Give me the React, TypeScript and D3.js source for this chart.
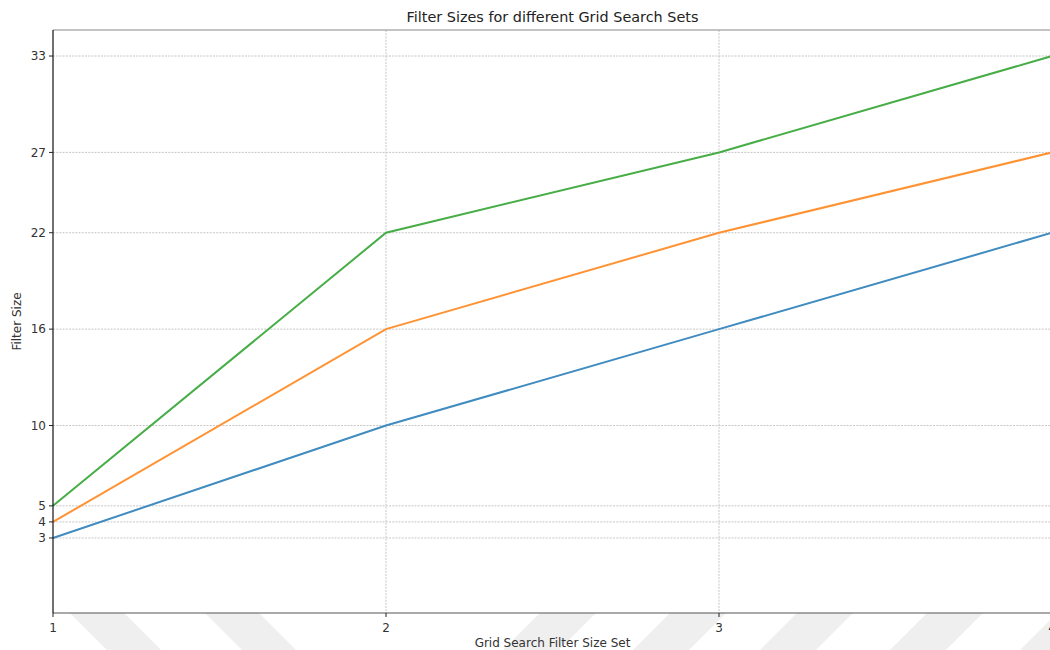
import React from "react";
import * as d3 from "d3";

const gridSets = [1, 2, 3, 4];
const smallFilters = [3, 10, 16, 22];
const mediumFilters = [4, 16, 22, 27];
const largeFilters = [5, 22, 27, 33];
const yTickValues = [3, 4, 5, 10, 16, 22, 27, 33];
const seriesColors = ["#408bbf", "#ff9233", "#47ad47"];

const W = 1050;
const H = 650;
const M = { left: 53, right: 1052, top: 30, bottom: 613 };

export default function App() {
  const x = d3.scaleLinear().domain([1, 4]).range([M.left, M.right]);
  const y = d3.scaleLinear().domain([-1.67, 34.62]).range([M.bottom, M.top]);
  const line = d3
    .line<number>()
    .x((_, i) => x(gridSets[i]))
    .y((d) => y(d));
  const series = [smallFilters, mediumFilters, largeFilters];
  const font = "'DejaVu Sans', sans-serif";

  // diagonal watermark bands below the axis
  const bandTop = M.bottom;
  const bandBottom = H;
  const dh = bandBottom - bandTop;
  const backBands = [70, 205];
  const fwdBands = [503, 633, 760, 890, 1020];

  return (
    <svg
      width={W}
      height={H}
      style={{ position: "absolute", left: 0, top: 0, background: "#fff" }}
      fontFamily={font}
    >
      <g fill="#efefef">
        {backBands.map((bx, i) => (
          <polygon
            key={"b" + i}
            points={`${bx},${bandTop} ${bx + 54},${bandTop} ${bx + 54 + dh},${bandBottom} ${bx + dh},${bandBottom}`}
          />
        ))}
        {fwdBands.map((bx, i) => (
          <polygon
            key={"f" + i}
            points={`${bx},${bandBottom} ${bx + 56},${bandBottom} ${bx + 56 + dh},${bandTop} ${bx + dh},${bandTop}`}
          />
        ))}
      </g>

      {/* grid */}
      <g stroke="#b8b8b8" strokeWidth={0.8} strokeDasharray="2,1.2">
        {yTickValues.map((v) => (
          <line key={"gy" + v} x1={M.left} x2={M.right} y1={y(v)} y2={y(v)} />
        ))}
        {gridSets.slice(1).map((v) => (
          <line key={"gx" + v} x1={x(v)} x2={x(v)} y1={M.top} y2={M.bottom} />
        ))}
      </g>

      {/* series lines */}
      {series.map((s, i) => (
        <path
          key={"s" + i}
          d={line(s) || ""}
          fill="none"
          stroke={seriesColors[i]}
          strokeWidth={2}
        />
      ))}

      {/* spines */}
      <line x1={M.left} x2={W} y1={M.top} y2={M.top} stroke="#888" strokeWidth={1.2} />
      <line x1={M.left} x2={W} y1={M.bottom} y2={M.bottom} stroke="#555" strokeWidth={1.2} />
      <line x1={M.left} x2={M.left} y1={M.top} y2={M.bottom} stroke="#111" strokeWidth={1.2} />

      {/* y ticks */}
      {yTickValues.map((v) => (
        <g key={"ty" + v}>
          <line x1={M.left - 4} x2={M.left} y1={y(v)} y2={y(v)} stroke="#222" strokeWidth={1} />
          <text
            x={M.left - 7}
            y={y(v)}
            dy="0.35em"
            textAnchor="end"
            fontSize={12}
            fill="#333"
          >
            {v}
          </text>
        </g>
      ))}

      {/* x ticks */}
      {gridSets.map((v) => (
        <g key={"tx" + v}>
          <line x1={x(v)} x2={x(v)} y1={M.bottom} y2={M.bottom + 4} stroke="#222" strokeWidth={1} />
          <text x={x(v)} y={M.bottom + 19} textAnchor="middle" fontSize={12} fill="#333">
            {v}
          </text>
        </g>
      ))}

      <text
        x={(M.left + M.right) / 2}
        y={22}
        textAnchor="middle"
        fontSize={14.4}
        fill="#222"
      >
        Filter Sizes for different Grid Search Sets
      </text>
      <text
        x={(M.left + M.right) / 2}
        y={647}
        textAnchor="middle"
        fontSize={12}
        fill="#333"
      >
        Grid Search Filter Size Set
      </text>
      <text
        transform={`translate(21, ${(M.top + M.bottom) / 2}) rotate(-90)`}
        textAnchor="middle"
        fontSize={12}
        fill="#333"
      >
        Filter Size
      </text>
    </svg>
  );
}
